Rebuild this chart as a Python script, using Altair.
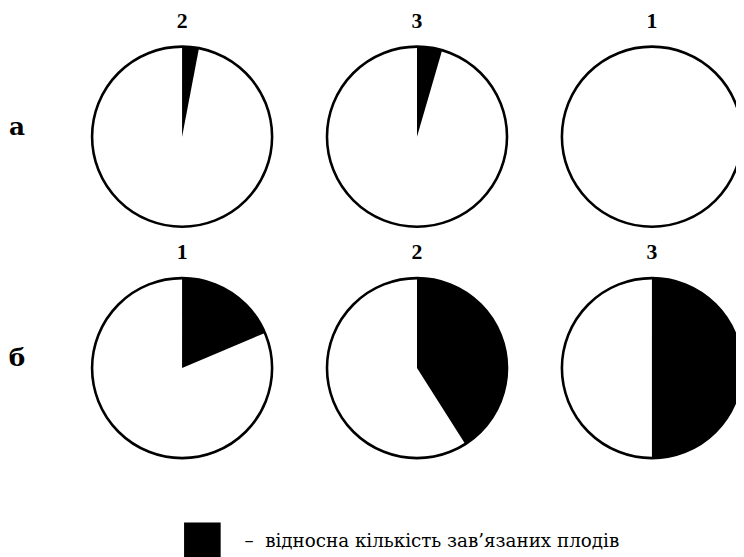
import altair as alt
import pandas as pd

# Data
row_names = ["а", "б"]
pie_rows = [0, 0, 0, 1, 1, 1]
pie_cols = [0, 1, 2, 0, 1, 2]
pie_labels = ["2", "3", "1", "1", "2", "3"]
black_share = [0.03, 0.045, 0.0, 0.186, 0.41, 0.50]
legend_text = "–\u00a0\u00a0відносна кількість зав’язаних плодів"

df = pd.DataFrame({
    "row": pie_rows,
    "col": pie_cols,
    "label": pie_labels,
    "share": black_share,
})
df["start"] = 0.0
df["full"] = 1.0
df["kind"] = legend_text

rows_df = pd.DataFrame({"row": [0, 1], "name": row_names})

R = 91
SERIF = "Liberation Serif"
CYR = "DejaVu Serif"
xs = alt.X("col:Q", scale=alt.Scale(domain=[0, 2], range=[176, 651]), axis=None)
ys = alt.Y("row:Q", scale=alt.Scale(domain=[0, 1], range=[127, 361]), axis=None)
th_scale = alt.Scale(domain=[0, 1], range=[0, 6.283185307179586])

base = alt.Chart(df)

white = base.mark_arc(outerRadius=R, fill="white", strokeWidth=0).encode(
    x=xs, y=ys,
    theta=alt.Theta("start:Q", scale=th_scale),
    theta2="full:Q",
)

wedge = base.mark_arc(outerRadius=R, strokeWidth=0).encode(
    x=xs, y=ys,
    theta=alt.Theta("start:Q", scale=th_scale),
    theta2="share:Q",
    color=alt.Color(
        "kind:N",
        scale=alt.Scale(range=["black"]),
        legend=alt.Legend(
            title=None,
            orient="none",
            legendX=178,
            legendY=517,
            padding=0,
            symbolType="square",
            symbolSize=1369,
            symbolStrokeWidth=0,
            symbolFillColor="black",
            symbolOpacity=1,
            labelFont=CYR,
            labelFontSize=18.5,
            labelFontWeight="normal",
            labelColor="black",
            labelLimit=700,
            labelOffset=24,
        ),
    ),
)

outline = base.mark_arc(outerRadius=R, fill="white", fillOpacity=0,
                        stroke="black", strokeWidth=2.6).encode(
    x=xs, y=ys,
    theta=alt.Theta("start:Q", scale=th_scale),
    theta2="full:Q",
)

titles = base.mark_text(font=SERIF, fontWeight="bold",
                        fontSize=22, color="black", dy=-117).encode(
    x=xs, y=ys, text="label:N",
)

row_labels = alt.Chart(rows_df).mark_text(
    font=CYR, fontWeight="bold", fontSize=25,
    color="black", dy=-10,
).encode(
    x=alt.value(9),
    y=ys,
    text="name:N",
)

chart = alt.layer(white, wedge, outline, titles, row_labels).properties(
    width=736, height=560,
    autosize=alt.AutoSizeParams(type="none"),
    padding=0,
).configure_view(stroke=None)

chart.save("out.html", embed_options={"renderer": "svg", "actions": False})
